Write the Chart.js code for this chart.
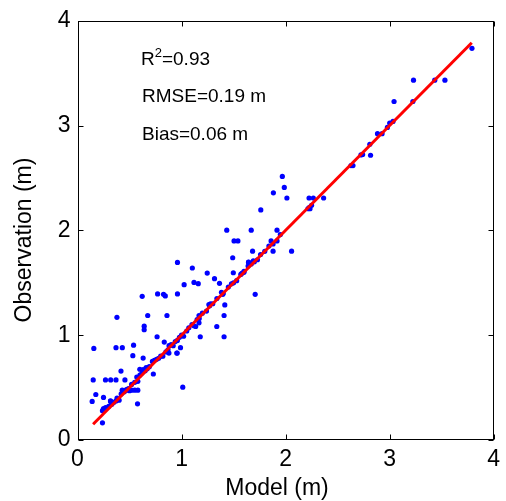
<!DOCTYPE html>
<html>
<head>
<meta charset="utf-8">
<script src="https://cdn.jsdelivr.net/npm/chart.js@4.4.1/dist/chart.umd.min.js"></script>
<style>
  html,body{margin:0;padding:0;background:#fff;}
  #wrap{width:506px;height:501px;}
</style>
</head>
<body>
<div id="wrap"><canvas id="c" width="506" height="501"></canvas></div>
<script>
// Scatter data: model (x) vs observation (y), metres
const modelValues = [
  0.961,1.104,1.247,1.317,1.025,1.120,1.161,1.365,0.622,0.770,0.827,0.844,0.961,0.379,0.675,0.860,
  0.641,0.641,1.409,1.339,1.409,1.180,0.765,0.157,0.370,0.431,0.539,0.532,0.151,0.269,0.319,0.370,
  0.456,0.418,0.176,0.141,0.250,0.319,0.577,0.240,1.012,0.729,0.958,0.990,1.969,1.988,1.883,2.013,
  1.762,1.435,1.670,1.918,1.505,1.542,1.861,1.918,1.683,1.880,2.058,1.492,1.644,1.498,1.708,1.416,
  2.226,2.267,2.366,2.216,2.235,3.792,3.230,3.434,3.532,3.043,3.224,3.001,3.033,2.979,2.884,2.928,
  2.810,2.817,2.725,2.741,2.629,2.648,0.631,0.879,0.955,0.599,0.631,0.660,0.52,0.55,0.58,0.43,
  0.47,0.317,0.370,1.168,1.136,1.263,1.279,1.168,0.834,1.384,1.397,1.644,1.69,1.58,1.60,
  0.24,0.25,0.27,0.30,0.33,0.35,0.38,0.40,0.42,0.45,0.47,0.49,0.50,0.52,0.55,0.57,0.58,0.60,0.62,
  0.63,0.65,0.67,0.69,0.72,0.74,0.76,0.78,0.80,0.82,0.85,0.87,0.88,0.90,0.92,0.94,0.96,0.98,1.00,
  1.02,1.05,1.07,1.10,1.12,1.15,1.17,1.20,1.24,1.27,1.30,1.34,1.40,1.45,1.48,1.50,1.53,1.57,1.60,
  1.64,1.67,1.70,1.73,1.76,1.80,1.84,1.88,1.95,2.23,2.25
];
const obsValues = [
  1.694,1.641,1.593,1.539,1.482,1.504,1.492,1.495,1.371,1.394,1.390,1.375,1.394,1.171,1.188,1.188,
  1.086,1.052,1.188,1.083,0.985,0.985,0.985,0.874,0.881,0.881,0.905,0.805,0.573,0.573,0.573,0.573,
  0.573,0.658,0.434,0.368,0.406,0.368,0.345,0.164,0.504,0.630,0.829,0.881,2.515,2.410,2.359,2.309,
  2.195,2.002,2.002,2.002,1.900,1.900,1.900,1.900,1.802,1.802,1.802,1.739,1.698,1.596,1.390,1.289,
  2.309,2.309,2.309,2.207,2.207,3.737,3.433,3.433,3.433,3.230,3.230,3.024,3.040,2.983,2.923,2.923,
  2.822,2.717,2.720,2.724,2.619,2.619,0.782,0.829,0.829,0.675,0.672,0.691,0.475,0.475,0.475,0.475,
  0.475,0.373,0.373,1.118,1.083,1.292,1.299,1.188,0.934,1.409,1.390,1.694,1.71,1.59,1.61,
  0.28,0.30,0.31,0.32,0.34,0.36,0.40,0.38,0.44,0.46,0.48,0.49,0.47,0.53,0.55,0.60,0.56,0.62,0.64,
  0.66,0.66,0.68,0.70,0.75,0.76,0.77,0.78,0.80,0.80,0.84,0.86,0.90,0.91,0.90,0.94,0.95,0.98,1.00,
  0.99,1.04,1.07,1.10,1.09,1.15,1.16,1.21,1.23,1.28,1.30,1.35,1.40,1.46,1.49,1.50,1.52,1.58,1.60,
  1.66,1.68,1.70,1.72,1.77,1.80,1.85,1.87,1.96,2.22,2.24
];
// 1:1 line endpoints
const lineX = [0.15, 3.79];
const lineY = [0.15, 3.79];
// axis ticks
const tickValues = [0, 1, 2, 3, 4];
// statistics text
const statR2 = '0.93';
const statRMSE = 'RMSE=0.19 m';
const statBias = 'Bias=0.06 m';
const xTitle = 'Model (m)';
const yTitle = 'Observation (m)';

const scatterPts = modelValues.map((v, i) => ({x: v, y: obsValues[i]}));
const linePts = lineX.map((v, i) => ({x: v, y: lineY[i]}));

const FONT = '"Liberation Sans", Arial, Helvetica, sans-serif';

const boxPlugin = {
  id: 'boxPlugin',
  afterDraw(chart) {
    const {ctx, chartArea: a, scales: {x, y}} = chart;
    ctx.save();
    ctx.strokeStyle = '#000';
    ctx.lineWidth = 1;
    const L = Math.round(a.left) + 0.5, R = Math.round(a.right) - 0.5;
    const T = Math.round(a.top) + 0.5, B = Math.round(a.bottom) - 0.5;
    ctx.strokeRect(L, T, R - L, B - T);
    const tl = 5;
    ctx.beginPath();
    tickValues.forEach(v => {
      const px = Math.round(x.getPixelForValue(v)) + 0.5;
      ctx.moveTo(px, B); ctx.lineTo(px, B - tl);
      ctx.moveTo(px, T); ctx.lineTo(px, T + tl);
      const py = Math.round(y.getPixelForValue(v)) + 0.5;
      ctx.moveTo(L, py); ctx.lineTo(L + tl, py);
      ctx.moveTo(R, py); ctx.lineTo(R - tl, py);
    });
    ctx.stroke();

    // statistics annotations
    ctx.fillStyle = '#000';
    ctx.textBaseline = 'alphabetic';
    ctx.textAlign = 'left';
    ctx.font = '19px ' + FONT;
    let tx = 141;
    ctx.fillText('R', tx, 65);
    tx += ctx.measureText('R').width;
    ctx.font = '13px ' + FONT;
    ctx.fillText('2', tx, 57);
    tx += ctx.measureText('2').width;
    ctx.font = '19px ' + FONT;
    ctx.fillText('=' + statR2, tx, 65);
    ctx.fillText(statRMSE, 142, 102);
    ctx.fillText(statBias, 142, 140);

    // axis titles
    ctx.font = '23px ' + FONT;
    ctx.textAlign = 'center';
    ctx.textBaseline = 'middle';
    ctx.fillText(xTitle, 277, 489);
    ctx.save();
    ctx.translate(25, 240);
    ctx.rotate(-Math.PI / 2);
    ctx.fillText(yTitle, 0, 0);
    ctx.restore();
    ctx.restore();
  }
};

new Chart(document.getElementById('c'), {
  type: 'scatter',
  data: {
    datasets: [
      {
        type: 'line',
        data: linePts,
        borderColor: '#ff0000',
        borderWidth: 3,
        pointRadius: 0,
        fill: false,
        tension: 0
      },
      {
        data: scatterPts,
        backgroundColor: '#0000ff',
        borderColor: '#0000ff',
        borderWidth: 0,
        pointRadius: 2.6
      }
    ]
  },
  options: {
    responsive: false,
    animation: false,
    devicePixelRatio: 1,
    layout: {padding: {top: 19, right: 9, left: 0, bottom: 0}},
    plugins: {legend: {display: false}, tooltip: {enabled: false}},
    scales: {
      x: {
        type: 'linear', min: 0, max: 4,
        afterFit(s) { s.height = 61; },
        afterBuildTicks(s) { s.ticks = tickValues.map(v => ({value: v})); },
        grid: {display: false, drawTicks: false},
        border: {display: false},
        ticks: {color: '#000', padding: 6, font: {family: FONT, size: 23}}
      },
      y: {
        type: 'linear', min: 0, max: 4,
        afterFit(s) { s.width = 77.5; },
        afterBuildTicks(s) { s.ticks = tickValues.map(v => ({value: v})); },
        grid: {display: false, drawTicks: false},
        border: {display: false},
        ticks: {color: '#000', padding: 7, font: {family: FONT, size: 23}}
      }
    }
  },
  plugins: [boxPlugin]
});
</script>
</body>
</html>
